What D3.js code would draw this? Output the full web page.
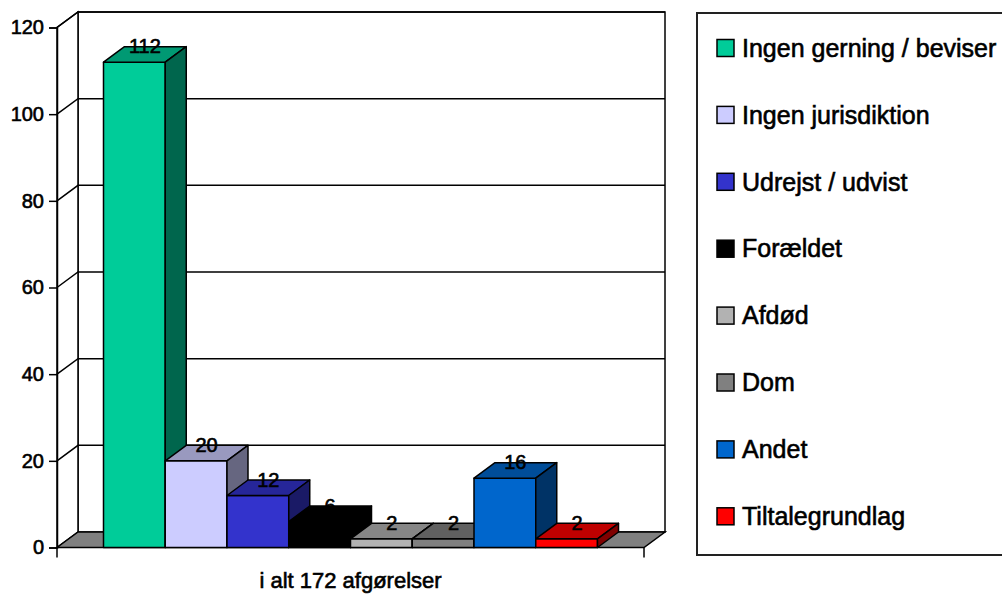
<!DOCTYPE html>
<html>
<head>
<meta charset="utf-8">
<script src="https://cdn.jsdelivr.net/npm/d3@7"></script>
<style>
  html, body { margin: 0; padding: 0; background: #fff; }
  svg { display: block; font-family: "Liberation Sans", Arial, sans-serif; }
  svg text { stroke: #000; stroke-width: 0.6px; fill: #000; }
</style>
</head>
<body>
<svg id="chart" width="1002" height="594"></svg>
<script>
const category = 'i alt 172 afgørelser';
const seriesNames = ['Ingen gerning / beviser', 'Ingen jurisdiktion', 'Udrejst / udvist', 'Forældet', 'Afdød', 'Dom', 'Andet', 'Tiltalegrundlag'];
const values = [112, 20, 12, 6, 2, 2, 16, 2];
const yTicks = [0, 20, 40, 60, 80, 100, 120];
const palette = ['#00cc99', '#ccccff', '#3333cc', '#000000', '#b2b2b2', '#808080', '#0066cc', '#ff0000'];

const svg = d3.select('#chart');

// 3D offset for depth
const dx = 21, dy = -15.5;
const left = 57, right = 644;

const y = d3.scaleLinear().domain([0, 120]).range([547.5, 27.5]);
const x = d3.scaleBand().domain(seriesNames).range([left, right]).paddingInner(0).paddingOuter(0.753);
const color = d3.scaleOrdinal().domain(seriesNames).range(palette);

function shade(c, k) {
  const r = d3.rgb(c);
  return d3.rgb(r.r * k, r.g * k, r.b * k).formatHex();
}

const y0 = y(0), yTop = y(120);

// back wall
svg.append('rect')
  .attr('x', left + dx).attr('y', yTop + dy)
  .attr('width', right - left).attr('height', y0 - yTop)
  .attr('fill', '#fff').attr('stroke', '#000').attr('stroke-width', 1.5);

// side wall
svg.append('path')
  .attr('d', `M${left},${y0}L${left},${yTop}L${left + dx},${yTop + dy}L${left + dx},${y0 + dy}Z`)
  .attr('fill', '#fff').attr('stroke', '#000').attr('stroke-width', 1.5);

// grid lines
const grid = svg.append('g').attr('stroke', '#000').attr('stroke-width', 1.5).attr('fill', 'none');
yTicks.filter(t => t > 0).forEach(t => {
  grid.append('path')
    .attr('d', `M${left},${y(t)}L${left + dx},${y(t) + dy}L${right + dx},${y(t) + dy}`);
});

// floor
svg.append('path')
  .attr('d', `M${left},${y0}L${right},${y0}L${right + dx},${y0 + dy}L${left + dx},${y0 + dy}Z`)
  .attr('fill', '#808080').attr('stroke', '#000').attr('stroke-width', 1.5);

// y axis
const yAxis = svg.append('g')
  .attr('transform', `translate(${left},0)`)
  .call(d3.axisLeft(y).tickValues(yTicks).tickSize(8).tickPadding(5));
yAxis.select('.domain').attr('stroke', '#000').attr('stroke-width', 1.5);
yAxis.selectAll('.tick line').attr('stroke', '#000').attr('stroke-width', 1.5);
yAxis.selectAll('.tick text')
  .attr('fill', '#000')
  .style('font-size', '20px')
  .style('font-family', '"Liberation Sans", Arial, sans-serif');

// category boundary ticks
svg.append('g').attr('stroke', '#000').attr('stroke-width', 1.5)
  .selectAll('line')
  .data(x.range())
  .enter()
  .append('line')
  .attr('x1', d => d).attr('x2', d => d)
  .attr('y1', y0).attr('y2', y0 + 10);

svg.append('text')
  .attr('x', (left + right) / 2)
  .attr('y', 588)
  .attr('text-anchor', 'middle')
  .style('font-size', '22px')
  .text(category);

// bars
const data = seriesNames.map((name, i) => ({ name, value: values[i] }));
const bars = svg.selectAll('.bar')
  .data(data)
  .enter()
  .append('g')
  .attr('class', 'bar')
  .attr('stroke', '#000')
  .attr('stroke-width', 1.5)
  .attr('stroke-linejoin', 'round');

bars.each(function (d) {
  const g = d3.select(this);
  const bx = x(d.name), w = x.bandwidth(), yv = y(d.value);
  const c = color(d.name);
  g.append('rect')
    .attr('x', bx).attr('y', yv)
    .attr('width', w).attr('height', y0 - yv)
    .attr('fill', c);
  g.append('path')
    .attr('d', `M${bx},${yv}L${bx + dx},${yv + dy}L${bx + w + dx},${yv + dy}L${bx + w},${yv}Z`)
    .attr('fill', shade(c, 0.75));
  g.append('path')
    .attr('d', `M${bx + w},${yv}L${bx + w + dx},${yv + dy}L${bx + w + dx},${y0 + dy}L${bx + w},${y0}Z`)
    .attr('fill', shade(c, 0.5));
});

// value labels
svg.selectAll('.val')
  .data(data)
  .enter()
  .append('text')
  .attr('class', 'val')
  .attr('x', d => x(d.name) + x.bandwidth() / 2 + dx / 2)
  .attr('y', d => y(d.value) - 9)
  .attr('text-anchor', 'middle')
  .style('font-size', '20px')
  .text(d => d.value);

// legend
const legend = svg.append('g');
legend.append('rect')
  .attr('x', 697).attr('y', 13)
  .attr('width', 320).attr('height', 542)
  .attr('fill', '#fff').attr('stroke', '#222').attr('stroke-width', 2);

const rowH = 66.9;
const items = legend.selectAll('.item')
  .data(seriesNames)
  .enter()
  .append('g')
  .attr('class', 'item')
  .attr('transform', (d, i) => `translate(717,${48 + i * rowH})`);

items.append('rect')
  .attr('x', 0).attr('y', -8.5)
  .attr('width', 17).attr('height', 17)
  .attr('fill', d => color(d))
  .attr('stroke', '#000').attr('stroke-width', 1.5);

items.append('text')
  .attr('x', 25).attr('y', 0)
  .attr('dy', '0.35em')
  .style('font-size', '25px')
  .text(d => d);
</script>
</body>
</html>
